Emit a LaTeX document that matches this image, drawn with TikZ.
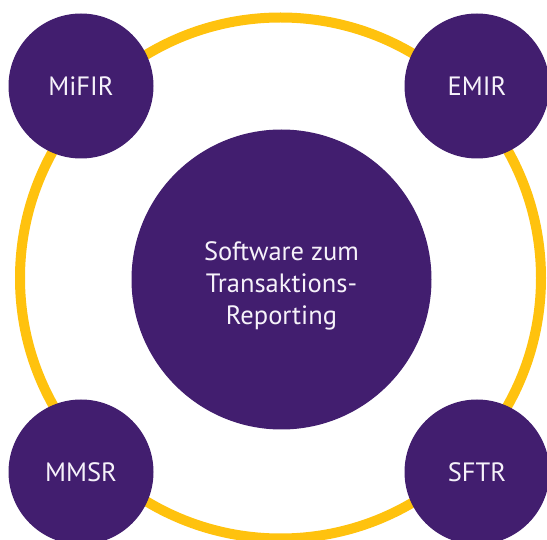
\documentclass[tikz,border=0pt]{standalone}
\usepackage{fontspec}
\setmainfont{PT Sans}
\usetikzlibrary{positioning}

\definecolor{regpurple}{HTML}{421E6F}
\definecolor{regyellow}{HTML}{FFC20E}
\definecolor{regtext}{HTML}{F6F2FA}

\tikzset{
  reg/.style={circle,fill=regpurple,text=regtext,minimum size=145pt,inner sep=0pt,
    font=\fontsize{26.5}{32}\selectfont},
  core/.style={reg,minimum size=300pt},
  coretext/.style={text=regtext,inner sep=0pt,align=center,
    font=\fontsize{26.5}{32}\selectfont}
}

\begin{document}
\begin{tikzpicture}[x=1pt,y=-1pt]
 \useasboundingbox (0,0) rectangle (547,540);
 % ring
 \draw[regyellow,line width=10pt] (280.5,278) circle[radius=260.5];
 % nodes
 \node[core] (software) at (281.5,279.5) {};
 \node[coretext] (softwaretext) at ([yshift=-6pt]software.center) {Software zum\\Transaktions-\\Reporting};
 \node[reg] (mifir) at (81,86) {MiFIR};
 \node[reg] (emir) at (477,86) {EMIR};
 \node[reg] (mmsr) at (81,472) {MMSR};
 \node[reg] (sftr) at (477,472) {SFTR};
\end{tikzpicture}
\end{document}
